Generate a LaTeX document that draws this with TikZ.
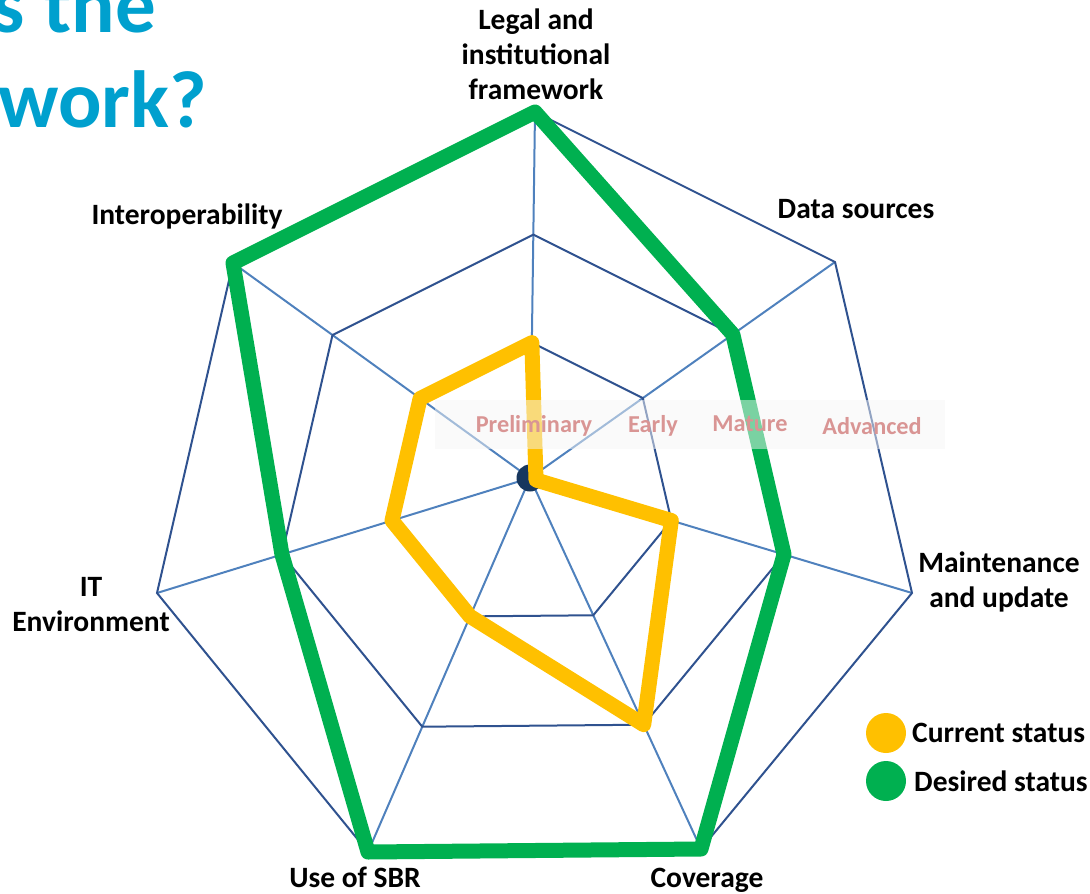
\documentclass[tikz,border=0pt]{standalone}
\usepackage{fontspec}
\setmainfont{Carlito}
\usetikzlibrary{calc}
\definecolor{ringc}{RGB}{47,82,143}
\definecolor{spokec}{RGB}{79,129,189}
\definecolor{navydot}{RGB}{23,55,94}
\definecolor{curc}{RGB}{255,192,0}
\definecolor{desc}{RGB}{0,176,80}
\definecolor{lvlc}{RGB}{217,149,148}
\definecolor{titlec}{RGB}{0,160,206}
\tikzset{
  ringline/.style={draw=ringc, line width=2pt},
  spokeline/.style={draw=spokec, line width=2pt},
  statusline/.style={line width=15pt, line join=round},
  axislabel/.style={font=\fontsize{29.5}{35}\selectfont\bfseries, align=center, text=black, inner sep=0pt},
  levellabel/.style={font=\fontsize{24.3}{28}\selectfont\bfseries, text=lvlc, inner sep=0pt},
  legenddot/.style={circle, minimum size=40pt, inner sep=0pt},
  legendtext/.style={font=\fontsize{29.5}{34}\selectfont\bfseries, anchor=west, inner sep=0pt},
  titletext/.style={font=\fontsize{81}{96}\selectfont\bfseries, text=titlec, anchor=base east, inner sep=0pt}
}
\begin{document}
\begin{tikzpicture}[x=1pt,y=-1pt]
\useasboundingbox (0,0) rectangle (1090,894);
\coordinate (C) at (530,478);
\coordinate (o1) at (535,112);
\coordinate (o2) at (835,262);
\coordinate (o3) at (912,593);
\coordinate (o4) at (701,849);
\coordinate (o5) at (368,852);
\coordinate (o6) at (157,593);
\coordinate (o7) at (233,263);
\foreach \i in {1,...,7}{
  \coordinate (a\i) at ($(C)!0.37!(o\i)$);
  \coordinate (b\i) at ($(C)!0.665!(o\i)$);
}
\coordinate (c0) at ($(C)+(6,2)$);
% spokes
\foreach \i in {1,...,7}{ \draw[spokeline] (C) -- (o\i); }
% rings
\draw[ringline] (a1)--(a2)--(a3)--(a4)--(a5)--(a6)--(a7)--cycle;
\draw[ringline] (b1)--(b2)--(b3)--(b4)--(b5)--(b6)--(b7)--cycle;
\draw[ringline] (o1)--(o2)--(o3)--(o4)--(o5)--(o6)--(o7)--cycle;
% centre dot
\node[circle, fill=navydot, minimum size=27pt, inner sep=0pt] (ctr) at (C) {};
% current status
\draw[statusline, draw=curc] (a1)--(c0)--(a3)--(b4)--(a5)--(a6)--(a7)--cycle;
% desired status
\draw[statusline, draw=desc] (o1)--(b2)--(b3)--(o4)--(o5)--(b6)--(o7)--cycle;
% level band
\fill[black!4, opacity=0.5] (435,400) rectangle (945,449);
\node[levellabel] (lv1) at (534,426) {Preliminary};
\node[levellabel] (lv2) at (653,426) {Early};
\node[levellabel] (lv3) at (750,424) {Mature};
\node[levellabel] (lv4) at (872,426) {Advanced};
% axis labels
\node[axislabel] (l1) at (536,54) {Legal and\\institutional\\framework};
\node[axislabel] (l2) at (856,209) {Data sources};
\node[axislabel] (l3) at (999,582) {Maintenance\\and update};
\node[axislabel] (l4) at (707,880) {Coverage};
\node[axislabel] (l5) at (355,877) {Use of SBR};
\node[axislabel] (l6) at (91,605) {IT\\Environment};
\node[axislabel] (l7) at (187,216) {Interoperability};
% legend
\node[legenddot, fill=curc] (lg1) at (886,733) {};
\node[legenddot, fill=desc] (lg2) at (886,781) {};
\node[legendtext] (lt1) at (912,733) {Current status};
\node[legendtext] (lt2) at (914,781) {Desired status};
% title fragments
\node[titletext] (t1) at (156,32) {s the};
\node[titletext] (t2) at (207,127) {work?};
\end{tikzpicture}
\end{document}
